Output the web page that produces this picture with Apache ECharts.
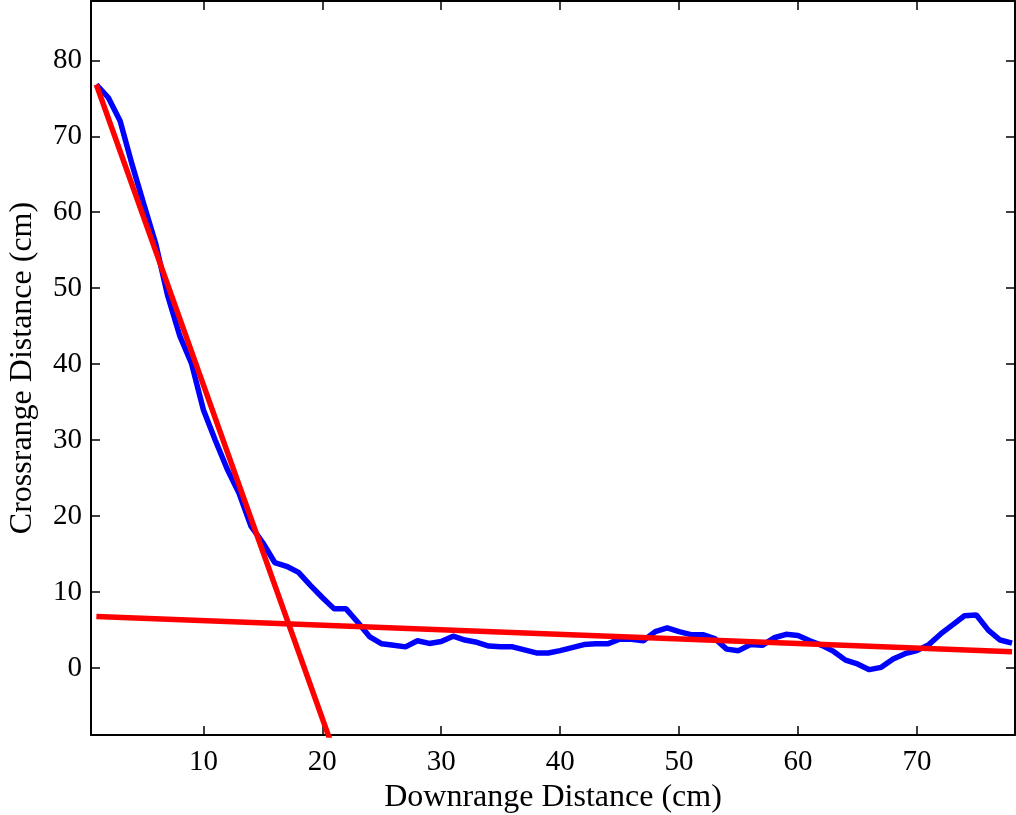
<!DOCTYPE html>
<html>
<head>
<meta charset="utf-8">
<script src="https://cdn.jsdelivr.net/npm/echarts@6/dist/echarts.min.js"></script>
<style>
html,body{margin:0;padding:0;background:#fff;}
#chart{width:1016px;height:815px;}
</style>
</head>
<body>
<div id="chart"></div>
<script>
// Downrange distance (cm) of each measured sample
const downrange = [1,2,3,4,5,6,7,8,9,10,11,12,13,14,15,16,17,18,19,20,
  21,22,23,24,25,26,27,28,29,30,31,32,33,34,35,36,37,38,39,40,
  41,42,43,44,45,46,47,48,49,50,51,52,53,54,55,56,57,58,59,60,
  61,62,63,64,65,66,67,68,69,70,71,72,73,74,75,76,77,78];
// Measured crossrange distance (cm)
const crossrange = [76.8,75.1,72.0,66.3,61.0,55.8,49.0,43.8,40.1,34.0,30.0,26.2,23.0,18.7,16.5,13.9,13.4,12.6,10.9,9.3,
  7.8,7.8,6.0,4.1,3.2,3.0,2.8,3.6,3.25,3.5,4.2,3.7,3.4,2.9,2.8,2.8,2.4,2.0,2.0,2.3,
  2.7,3.1,3.2,3.2,3.8,3.8,3.6,4.8,5.3,4.8,4.4,4.4,3.9,2.5,2.3,3.1,3.0,4.0,4.45,4.3,
  3.6,3.0,2.2,1.05,0.55,-0.2,0.1,1.2,1.9,2.3,3.1,4.5,5.7,6.9,7.0,5.0,3.7,3.3];
// Fitted line 1 (steep segment) endpoints
const fit1X = [1, 21];
const fit1Y = [76.8, -11.0];
// Fitted line 2 (flat segment) endpoints
const fit2X = [1, 78];
const fit2Y = [6.8, 2.15];
// Tick labels
const xTicks = [10,20,30,40,50,60,70];
const yTicks = [0,10,20,30,40,50,60,70,80];

const zip = (a,b) => a.map((v,i)=>[v,b[i]]);
const font = 'Liberation Serif';
const X_MIN = 0.55, X_MAX = 78.25, Y_MIN = -8.8, Y_MAX = 87.8;

const axisLineStyle = {show:true, onZero:false, lineStyle:{color:'#000', width:2}};
function xAx(pos, labels){
  return {
    type:'value', position:pos, min:X_MIN, max:X_MAX,
    axisLine: axisLineStyle,
    axisTick:{show:true, inside:true, length:9, lineStyle:{color:'#000',width:1.5}, customValues:xTicks},
    axisLabel:{show:labels, customValues:xTicks, color:'#000', fontFamily:font, fontSize:29, margin:13},
    splitLine:{show:false},
    name: labels ? 'Downrange Distance (cm)' : '',
    nameLocation:'middle', nameGap:47,
    nameTextStyle:{color:'#000', fontFamily:font, fontSize:32}
  };
}
function yAx(pos, labels){
  return {
    type:'value', position:pos, min:Y_MIN, max:Y_MAX,
    axisLine: axisLineStyle,
    axisTick:{show:true, inside:true, length:9, lineStyle:{color:'#000',width:1.5}, customValues:yTicks},
    axisLabel:{show:labels, customValues:yTicks, color:'#000', fontFamily:font, fontSize:29, margin:9},
    splitLine:{show:false},
    name: labels ? 'Crossrange Distance (cm)' : '',
    nameLocation:'middle', nameGap:52,
    nameTextStyle:{color:'#000', fontFamily:font, fontSize:32}
  };
}

const chart = echarts.init(document.getElementById('chart'), null, {renderer:'canvas'});
chart.setOption({
  animation:false,
  backgroundColor:'#fff',
  grid:{left:91, right:1, top:1, bottom:80, containLabel:false, outerBoundsMode:'none'},
  xAxis:[xAx('bottom', true), xAx('top', false)],
  yAxis:[yAx('left', true), yAx('right', false)],
  series:[
    {type:'line', data:zip(downrange, crossrange), symbol:'none', clip:true,
     lineStyle:{color:'#0000ff', width:5.5}, z:2},
    {type:'line', data:zip(fit1X, fit1Y), symbol:'none', clip:true,
     lineStyle:{color:'#ff0000', width:5.5}, z:3},
    {type:'line', data:zip(fit2X, fit2Y), symbol:'none', clip:true,
     lineStyle:{color:'#ff0000', width:5.5}, z:3}
  ]
});
</script>
</body>
</html>
